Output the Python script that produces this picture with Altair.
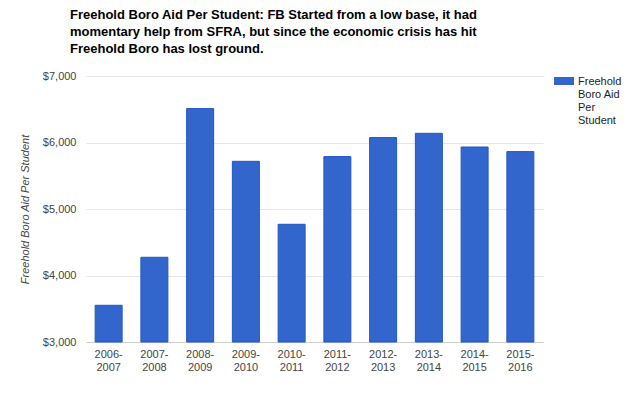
import altair as alt
import pandas as pd

years = ["2006-2007", "2007-2008", "2008-2009", "2009-2010", "2010-2011",
         "2011-2012", "2012-2013", "2013-2014", "2014-2015", "2015-2016"]
aid = [3552, 4274, 6510, 5717, 4770, 5788, 6074, 6138, 5932, 5863]
series_name = "Freehold Boro Aid Per Student"
legend_lines = ["Freehold", "Boro Aid", "Per", "Student"]
title_lines = [
    "Freehold Boro Aid Per Student: FB Started from a low base, it had",
    "momentary help from SFRA, but since the economic crisis has hit",
    "Freehold Boro has lost ground.",
]
y_ticks = [3000, 4000, 5000, 6000, 7000]

df = pd.DataFrame({"year": years, "aid": aid, "series": [series_name] * len(years)})

FONT = "Liberation Sans"
legend_expr = "[" + ",".join("'" + s + "'" for s in legend_lines) + "]"

chart = alt.Chart(df).mark_bar(stroke="#1f56c9", strokeWidth=1).encode(
    x=alt.X("year:N", sort=years, title=None,
            scale=alt.Scale(paddingInner=0.41, paddingOuter=0.2),
            axis=alt.Axis(labelAngle=0, labelFontSize=11, labelColor="#444444",
                          labelFont=FONT, ticks=False, domain=True, domainColor="#cccccc",
                          labelPadding=6, labelBaseline="top",
                          labelExpr="[split(datum.label,'-')[0] + '-', split(datum.label,'-')[1]]")),
    y=alt.Y("aid:Q", title="Freehold Boro Aid Per Student",
            scale=alt.Scale(domain=[3000, 7000], zero=False, nice=False),
            axis=alt.Axis(values=y_ticks, format="$,d", labelFontSize=11, labelColor="#444444",
                          labelFont=FONT, ticks=False, domain=False, gridColor="#e6e6e6",
                          labelPadding=10, titleFont=FONT, titleFontSize=11,
                          titleFontStyle="italic", titleFontWeight="normal",
                          titleColor="#444444", titlePadding=12)),
    y2=alt.datum(3000),
    color=alt.Color("series:N", scale=alt.Scale(range=["#3366cc"]),
                    legend=alt.Legend(title=None, orient="none", legendX=468, legendY=-10,
                                      symbolType="M-1,0.1H1V0.9H-1Z", symbolSize=400,
                                      symbolStrokeWidth=0,
                                      labelFont=FONT, labelFontSize=11, labelColor="#222222",
                                      labelBaseline="top", labelOffset=4, labelLimit=200,
                                      labelExpr=legend_expr)),
).properties(
    width=457,
    height=266,
    autosize=alt.AutoSizeParams(type="none"),
    padding={"left": 78, "top": 68, "right": 89, "bottom": 46},
    title=alt.TitleParams(text=title_lines, anchor="start", frame="group", dx=-16,
                          offset=10, font=FONT, fontSize=13, fontWeight="bold",
                          color="#000000", lineHeight=17),
).configure_view(stroke=None)

chart.save("out.html", embed_options={"renderer": "svg", "actions": False})
